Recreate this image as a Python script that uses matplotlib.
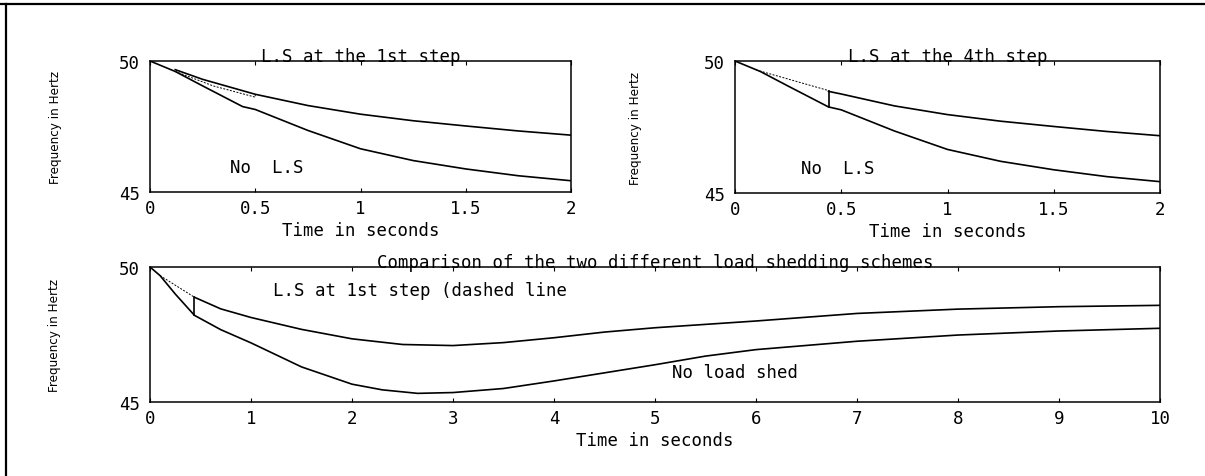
import matplotlib
matplotlib.use("Agg")
import matplotlib.pyplot as plt
from matplotlib import font_manager
from matplotlib.font_manager import FontProperties
from matplotlib.lines import Line2D

# frequency response, first 2 seconds (no load shedding)
t_nols = [0, 0.12, 0.25, 0.44, 0.5, 0.75, 1.0, 1.25, 1.5, 1.75, 2.0]
f_nols = [50, 49.6, 49.05, 48.26, 48.15, 47.35, 46.65, 46.2, 45.88, 45.62, 45.43]

# load shed at the 1st step
t_step1 = [0.12, 0.25, 0.5, 0.75, 1.0, 1.25, 1.5, 1.75, 2.0]
f_step1 = [49.67, 49.3, 48.73, 48.3, 47.97, 47.72, 47.52, 47.33, 47.17]
t_step1_dash = [0.12, 0.3, 0.5, 0.5]
f_step1_dash = [49.6, 49.05, 48.62, 48.73]

# load shed at the 4th step
t_step4 = [0.44, 0.5, 0.75, 1.0, 1.25, 1.5, 1.75, 2.0]
f_step4 = [48.85, 48.75, 48.3, 47.97, 47.72, 47.52, 47.33, 47.17]
t_step4_dash = [0.1, 0.44]
f_step4_dash = [49.66, 48.88]

# 10 second comparison
t_long = [0, 0.1, 0.25, 0.44, 0.7, 1, 1.5, 2, 2.3, 2.65, 3, 3.5, 4, 4.5, 5,
          5.5, 6, 7, 8, 9, 10]
f_long_nols = [50, 49.68, 49.0, 48.21, 47.68, 47.19, 46.3, 45.66, 45.45, 45.32,
               45.35, 45.5, 45.78, 46.08, 46.38, 46.7, 46.94, 47.25, 47.48,
               47.63, 47.73]
t_long_ls = [0.44, 0.7, 1, 1.5, 2, 2.5, 3, 3.5, 4, 4.5, 5, 6, 7, 8, 9, 10]
f_long_ls = [48.88, 48.45, 48.13, 47.69, 47.34, 47.13, 47.09, 47.2, 47.38,
             47.59, 47.75, 48.0, 48.28, 48.44, 48.53, 48.58]
t_long_dash = [0.1, 0.44]
f_long_dash = [49.68, 48.88]
t_jump = [0.44, 0.44]
f_jump = [48.21, 48.88]

short_ticks = [0, 0.5, 1, 1.5, 2]
short_ticklabels = ["0", "0.5", "1", "1.5", "2"]
long_ticks = list(range(0, 11))
f_ticks = [45, 50]

MONO = ["DejaVu Sans Mono"]
FS = 12.5
LW = 1.2

# a narrow sans face for the y labels, if one is installed
narrow = None
for f in font_manager.fontManager.ttflist:
    if f.style != "normal" or f.weight not in (400, "normal", "regular"):
        continue
    tag = (f.name + " " + str(f.stretch)).lower()
    if "narrow" in tag or "condensed" in tag:
        if "mono" not in tag and "serif" not in f.name.lower().replace("sans serif", ""):
            narrow = f.fname
            break
if narrow:
    ylab_font = FontProperties(fname=narrow, size=9.6)
else:
    ylab_font = FontProperties(family="DejaVu Sans", size=8.4)

fig = plt.figure(figsize=(12.05, 4.77), dpi=100, facecolor="white")
W, H = 1205, 477


def box(x0, x1, y0, y1):
    return [x0 / W, 1 - y1 / H, (x1 - x0) / W, (y1 - y0) / H]


def style(ax, xmax, ticks, ticklabels, title, lab_x):
    ax.set_xlim(0, xmax)
    ax.set_ylim(45, 50)
    ax.set_xticks(ticks)
    ax.set_xticklabels(ticklabels, family=MONO, fontsize=FS)
    ax.set_yticks(f_ticks)
    ax.set_yticklabels([str(v) for v in f_ticks], family=MONO, fontsize=FS)
    ax.tick_params(axis="x", direction="in", length=3, width=0.8,
                   top=True, pad=5)
    ax.tick_params(axis="y", length=0, pad=7)
    for s in ax.spines.values():
        s.set_linewidth(1.1)
    ax.set_title(title, family=MONO, fontsize=FS, pad=0)
    ax.set_xlabel("Time in seconds", family=MONO, fontsize=FS, labelpad=3)
    ax.set_ylabel("Frequency in Hertz", fontproperties=ylab_font)
    ax.yaxis.set_label_coords(lab_x, 0.5)


ax1 = fig.add_axes(box(150, 571, 62, 193))
ax1.plot(t_nols, f_nols, color="black", lw=LW)
ax1.plot(t_step1, f_step1, color="black", lw=LW)
ax1.plot(t_step1_dash, f_step1_dash, color="black", lw=0.7, ls=(0, (2, 1.5)))
ax1.text(0.38, 45.95, "No  L.S", family=MONO, fontsize=FS, va="center")
style(ax1, 2, short_ticks, short_ticklabels, "L.S at the 1st step", -0.21)

ax2 = fig.add_axes(box(735, 1160, 62, 194))
ax2.plot(t_nols, f_nols, color="black", lw=LW)
ax2.plot(t_step4, f_step4, color="black", lw=LW)
ax2.plot([0.44, 0.44], [48.26, 48.85], color="black", lw=LW)
ax2.plot(t_step4_dash, f_step4_dash, color="black", lw=0.7, ls=(0, (2, 1.5)))
ax2.text(0.31, 45.95, "No  L.S", family=MONO, fontsize=FS, va="center")
style(ax2, 2, short_ticks, short_ticklabels, "L.S at the 4th step", -0.22)

ax3 = fig.add_axes(box(150, 1160, 268, 403))
ax3.plot(t_long, f_long_nols, color="black", lw=LW)
ax3.plot(t_long_ls, f_long_ls, color="black", lw=LW)
ax3.plot(t_jump, f_jump, color="black", lw=LW)
ax3.plot(t_long_dash, f_long_dash, color="black", lw=0.7, ls=(0, (2, 1.5)))
ax3.text(1.22, 49.15, "L.S at 1st step (dashed line", family=MONO,
         fontsize=FS, va="center")
ax3.text(5.17, 46.1, "No load shed", family=MONO, fontsize=FS, va="center")
style(ax3, 10, long_ticks, [str(v) for v in long_ticks],
      "Comparison of the two different load shedding schemes", -0.088)

# page border of the scanned sheet
fig.add_artist(Line2D([0, 1], [1 - 5 / H, 1 - 5 / H], color="black", lw=1.6))
fig.add_artist(Line2D([6 / W, 6 / W], [0, 1 - 5 / H], color="black", lw=1.6))

fig.savefig("out.png", dpi=100, facecolor="white")
